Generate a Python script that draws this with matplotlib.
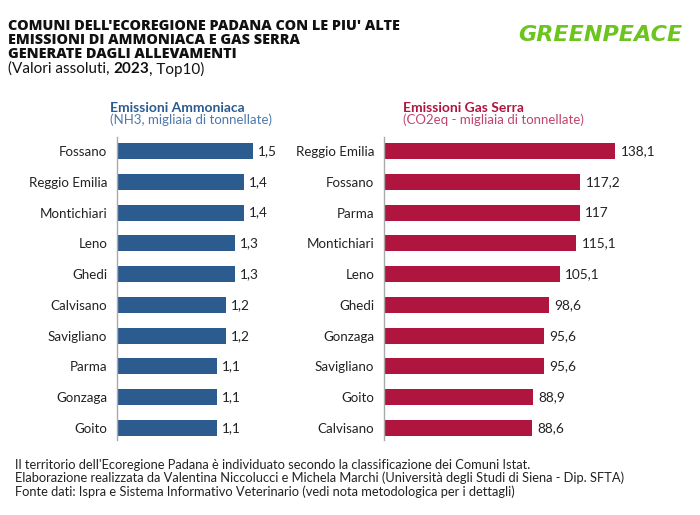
import matplotlib.pyplot as plt

# dati
comuni_nh3 = ["Fossano", "Reggio Emilia", "Montichiari", "Leno", "Ghedi",
              "Calvisano", "Savigliano", "Parma", "Gonzaga", "Goito"]
valori_nh3 = [1.5, 1.4, 1.4, 1.3, 1.3, 1.2, 1.2, 1.1, 1.1, 1.1]

comuni_ghg = ["Reggio Emilia", "Fossano", "Parma", "Montichiari", "Leno",
              "Ghedi", "Gonzaga", "Savigliano", "Goito", "Calvisano"]
valori_ghg = [138.1, 117.2, 117, 115.1, 105.1, 98.6, 95.6, 95.6, 88.9, 88.6]

BLU = '#2c5b8f'
ROSSO = '#b0153f'
W, H = 700, 515

plt.rcParams['font.family'] = ['Lato', 'DejaVu Sans']

fig = plt.figure(figsize=(7, 5.15), dpi=100)


def px(x0, y0, w, h):
    # rettangolo in pixel (origine in alto a sinistra) -> frazioni figura
    return [x0 / W, 1 - (y0 + h) / H, w / W, h / H]


def pannello(ax, comuni, valori, colore, xmax):
    pos = list(range(len(comuni)))
    ax.barh(pos, valori, height=0.52, color=colore)
    ax.set_xlim(0, xmax)
    ax.set_ylim(9.39, -0.455)
    ax.set_yticks(pos)
    ax.set_yticklabels(comuni, fontsize=9.6, color='#222222')
    ax.tick_params(axis='y', length=0, pad=7)
    ax.set_xticks([])
    for s in ['top', 'right', 'bottom']:
        ax.spines[s].set_visible(False)
    ax.spines['left'].set_color('#aaaaaa')
    ax.spines['left'].set_linewidth(1)
    for p, v in zip(pos, valori):
        etichetta = f"{v:g}".replace('.', ',')
        ax.annotate(etichetta, (v, p), xytext=(4, 0), textcoords='offset points',
                    va='center', ha='left', fontsize=9.8, color='#222222')


ax1 = fig.add_axes(px(117, 137, 172, 303))
pannello(ax1, comuni_nh3, valori_nh3, BLU, 1.9)

ax2 = fig.add_axes(px(384, 137, 301, 303))
pannello(ax2, comuni_ghg, valori_ghg, ROSSO, 180)

# titolo
tit = ("COMUNI DELL'ECOREGIONE PADANA CON LE PIU' ALTE\n"
       "EMISSIONI DI AMMONIACA E GAS SERRA\n"
       "GENERATE DAGLI ALLEVAMENTI")
fig.text(8 / W, 1 - 19 / H, tit, fontsize=10.4, fontweight='heavy',
         family=['Open Sans', 'DejaVu Sans'], va='top', ha='left', color='#111111',
         linespacing=0.98)

# sottotitolo con anno in grassetto
renderer = fig.canvas.get_renderer()
x = 8 / W
y = 1 - 69 / H
for pezzo, peso in [("(Valori assoluti, ", 'normal'), ("2023", 'bold'), (", Top10)", 'normal')]:
    t = fig.text(x, y, pezzo, fontsize=11, fontweight=peso, va='center', ha='left',
                 color='#111111')
    bb = t.get_window_extent(renderer=renderer)
    x += bb.width / W

# logo
fig.text(600 / W, 1 - 35 / H, "GREENPEACE", fontsize=16, fontweight='bold',
         style='italic', family=['DejaVu Sans'], color='#6cc41e',
         ha='center', va='center')

# intestazioni pannelli
fig.text(110 / W, 1 - 108 / H, "Emissioni Ammoniaca", fontsize=10, fontweight='bold',
         color=BLU, ha='left', va='center')
fig.text(110 / W, 1 - 120 / H, "(NH3, migliaia di tonnellate)", fontsize=9.5,
         color='#4e79aa', ha='left', va='center')
fig.text(403 / W, 1 - 108 / H, "Emissioni Gas Serra", fontsize=10, fontweight='bold',
         color=ROSSO, ha='left', va='center')
fig.text(403 / W, 1 - 120 / H, "(CO2eq - migliaia di tonnellate)", fontsize=9.5,
         color='#c2446a', ha='left', va='center')

# note
note = ("Il territorio dell'Ecoregione Padana è individuato secondo la classificazione dei Comuni Istat.\n"
        "Elaborazione realizzata da Valentina Niccolucci e Michela Marchi (Università degli Studi di Siena - Dip. SFTA)\n"
        "Fonte dati: Ispra e Sistema Informativo Veterinario (vedi nota metodologica per i dettagli)")
fig.text(15 / W, 1 - 459 / H, note, fontsize=9.3, color='#222222', ha='left', va='top',
         linespacing=1.08)

fig.savefig('out.png', dpi=100, facecolor='white')
